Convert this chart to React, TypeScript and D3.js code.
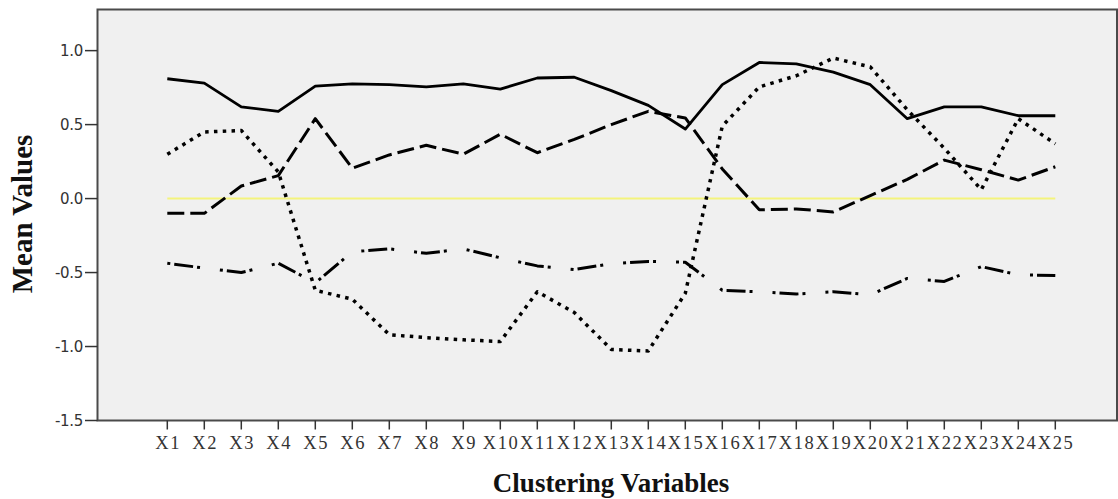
import React from "react";
import * as d3 from "d3";

const categories = Array.from({ length: 25 }, (_, i) => `X${i + 1}`);

const cluster1 = [0.81, 0.78, 0.62, 0.59, 0.76, 0.775, 0.77, 0.755, 0.775, 0.74, 0.815, 0.82, 0.73, 0.63, 0.47, 0.77, 0.92, 0.91, 0.855, 0.77, 0.54, 0.62, 0.62, 0.56, 0.56];
const cluster2 = [0.30, 0.45, 0.46, 0.18, -0.62, -0.68, -0.92, -0.94, -0.955, -0.966, -0.63, -0.77, -1.02, -1.03, -0.64, 0.49, 0.755, 0.83, 0.95, 0.89, 0.60, 0.34, 0.06, 0.54, 0.37];
const cluster3 = [-0.10, -0.10, 0.085, 0.155, 0.54, 0.205, 0.295, 0.36, 0.30, 0.435, 0.31, 0.40, 0.50, 0.59, 0.545, 0.20, -0.076, -0.07, -0.09, 0.02, 0.13, 0.26, 0.195, 0.125, 0.215];
const cluster4 = [-0.437, -0.47, -0.50, -0.437, -0.57, -0.36, -0.34, -0.37, -0.34, -0.40, -0.455, -0.48, -0.44, -0.425, -0.43, -0.62, -0.63, -0.645, -0.63, -0.65, -0.54, -0.56, -0.46, -0.515, -0.52];

const yTicks = [-1.5, -1.0, -0.5, 0.0, 0.5, 1.0];

const W = 1118;
const H = 499;
const frame = { left: 97.5, top: 9.5, right: 1117, bottom: 420.5 };

export default function App() {
  const x = d3.scalePoint<string>().domain(categories).range([167.3, 1055.3]);
  const y = d3.scaleLinear().domain([-1.5, 1.278]).range([frame.bottom, frame.top]);

  const line = d3
    .line<number>()
    .x((_, i) => x(categories[i]) as number)
    .y((d) => y(d));

  const series = [
    { values: cluster3, dash: "17,6", width: 3 },
    { values: cluster4, dash: "3,4,19,4,3,20", width: 3 },
    { values: cluster2, dash: "3.5,5.3", width: 3.5 },
    { values: cluster1, dash: "none", width: 2.8 },
  ];

  return (
    <svg
      width={W}
      height={H}
      style={{ position: "absolute", left: 0, top: 0, background: "#fff" }}
    >
      <rect
        x={frame.left}
        y={frame.top}
        width={frame.right - frame.left}
        height={frame.bottom - frame.top}
        fill="#f0f0f0"
      />
      {/* zero reference line */}
      <line
        x1={x(categories[0])}
        x2={x(categories[categories.length - 1])}
        y1={y(0)}
        y2={y(0)}
        stroke="#f4f47c"
        strokeWidth={2}
      />
      {series.map((s, i) => (
        <path
          key={i}
          d={line(s.values) || ""}
          fill="none"
          stroke="#000"
          strokeWidth={s.width}
          strokeDasharray={s.dash}
          strokeLinejoin="round"
        />
      ))}
      <rect
        x={frame.left}
        y={frame.top}
        width={frame.right - frame.left}
        height={frame.bottom - frame.top}
        fill="none"
        stroke="#4a4a4a"
        strokeWidth={2}
      />
      {/* y axis ticks */}
      {yTicks.map((t) => (
        <g key={t}>
          <line x1={85} x2={frame.left} y1={y(t)} y2={y(t)} stroke="#333" strokeWidth={1.5} />
          <text
            x={83}
            y={y(t)}
            dy="0.36em"
            textAnchor="end"
            fontFamily="DejaVu Sans, Liberation Sans, sans-serif"
            fontSize={15}
            letterSpacing={-0.3}
            fill="#333"
          >
            {t.toFixed(1)}
          </text>
        </g>
      ))}
      {/* x axis ticks */}
      {categories.map((c) => (
        <g key={c}>
          <line
            x1={x(c)}
            x2={x(c)}
            y1={frame.bottom}
            y2={frame.bottom + 9}
            stroke="#333"
            strokeWidth={1.5}
          />
          <text
            x={(x(c) as number) + 0.8}
            y={449}
            textAnchor="middle"
            fontFamily="Liberation Serif, Times New Roman, serif"
            fontSize={18.5}
            letterSpacing={1.6}
            fill="#333"
          >
            {c}
          </text>
        </g>
      ))}
      <text
        x={611}
        y={492}
        textAnchor="middle"
        fontFamily="Liberation Serif, Times New Roman, serif"
        fontWeight="bold"
        fontSize={27}
        fill="#111"
      >
        Clustering Variables
      </text>
      <text
        transform={`translate(32,214) rotate(-90)`}
        textAnchor="middle"
        fontFamily="Liberation Serif, Times New Roman, serif"
        fontWeight="bold"
        fontSize={29}
        fill="#111"
      >
        Mean Values
      </text>
    </svg>
  );
}
